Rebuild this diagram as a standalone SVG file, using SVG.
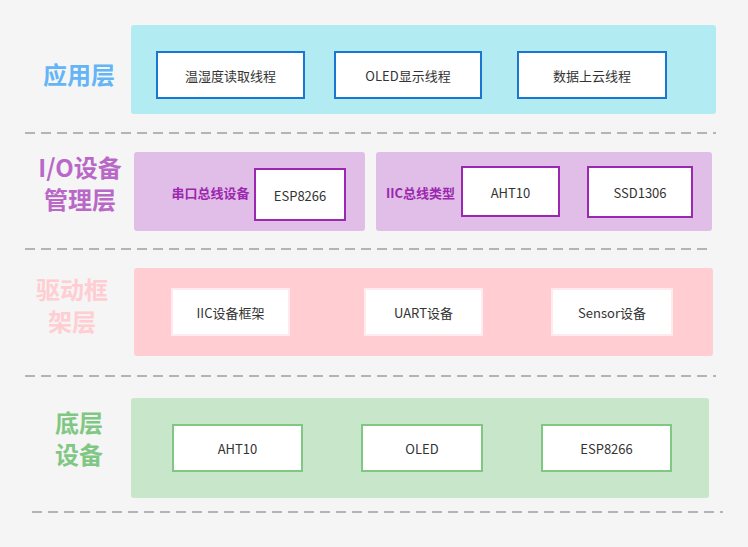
<svg xmlns="http://www.w3.org/2000/svg" width="748" height="547" viewBox="0 0 748 547">
<style>
text{font-family:"Noto Sans CJK SC","Noto Sans",sans-serif;text-anchor:middle}
.t{font-size:13px;fill:#333;dominant-baseline:central}
.lbl{font-size:24px;font-weight:bold}
.sub{font-size:13px;font-weight:bold;fill:#9c27b0;dominant-baseline:central}
.dash{stroke:#9e9e9e;stroke-width:1.5;stroke-dasharray:10 6;fill:none}
</style>
<rect width="748" height="547" fill="#f5f5f5"/>
<g id="sep">
<line class="dash" x1="25" y1="133" x2="716" y2="133"/>
<line class="dash" x1="25" y1="249" x2="712" y2="249"/>
<line class="dash" x1="25" y1="376" x2="716" y2="376"/>
<line class="dash" x1="32" y1="512" x2="723" y2="512" stroke="#bdbdbd"/>
</g>
<g id="app">
<rect x="131" y="25" width="585" height="89" rx="3" fill="#b2ebf2"/>
<text class="lbl" x="79" y="84" fill="#64b5f6">应用层</text>
<g id="app1"><rect x="157" y="52" width="147" height="46" fill="#fff" stroke="#1976d2" stroke-width="2"/><text class="t" x="230.5" y="75">温湿度读取线程</text></g>
<g id="app2"><rect x="335" y="52" width="146" height="46" fill="#fff" stroke="#1976d2" stroke-width="2"/><text class="t" x="408" y="75">OLED显示线程</text></g>
<g id="app3"><rect x="518" y="52" width="148" height="46" fill="#fff" stroke="#1976d2" stroke-width="2"/><text class="t" x="592" y="75">数据上云线程</text></g>
</g>
<g id="io">
<rect x="134" y="152" width="231" height="79" rx="3" fill="#e1bee7"/>
<rect x="376" y="152" width="336" height="79" rx="3" fill="#e1bee7"/>
<text class="lbl" fill="#ba68c8"><tspan x="80" y="177">I/O设备</tspan><tspan x="80" y="209">管理层</tspan></text>
<text class="sub" x="210.5" y="192">串口总线设备</text>
<text class="sub" x="420.5" y="192">IIC总线类型</text>
<g id="io1"><rect x="255" y="169" width="90" height="51" fill="#fff" stroke="#9c27b0" stroke-width="2"/><text class="t" x="300" y="195">ESP8266</text></g>
<g id="io2"><rect x="462" y="167" width="97" height="49" fill="#fff" stroke="#9c27b0" stroke-width="2"/><text class="t" x="510.5" y="192">AHT10</text></g>
<g id="io3"><rect x="588" y="167" width="104" height="50" fill="#fff" stroke="#9c27b0" stroke-width="2"/><text class="t" x="640" y="192">SSD1306</text></g>
</g>
<g id="drv">
<rect x="134" y="268" width="579" height="88" rx="3" fill="#ffcdd2"/>
<text class="lbl" fill="#ffcdd2"><tspan x="72" y="299">驱动框</tspan><tspan x="72" y="331">架层</tspan></text>
<g id="drv1"><rect x="172" y="289" width="117" height="46" fill="#fff" stroke="#ffebee" stroke-width="2"/><text class="t" x="230.5" y="312">IIC设备框架</text></g>
<g id="drv2"><rect x="365" y="289" width="117" height="46" fill="#fff" stroke="#ffebee" stroke-width="2"/><text class="t" x="423.5" y="312">UART设备</text></g>
<g id="drv3"><rect x="552" y="289" width="120" height="46" fill="#fff" stroke="#ffebee" stroke-width="2"/><text class="t" x="612" y="312">Sensor设备</text></g>
</g>
<g id="hw">
<rect x="131" y="398" width="578" height="100" rx="3" fill="#c8e6c9"/>
<text class="lbl" fill="#81c784"><tspan x="79" y="432">底层</tspan><tspan x="79" y="464">设备</tspan></text>
<g id="hw1"><rect x="173" y="425" width="129" height="46" fill="#fff" stroke="#81c784" stroke-width="2"/><text class="t" x="237.5" y="448">AHT10</text></g>
<g id="hw2"><rect x="362" y="425" width="120" height="46" fill="#fff" stroke="#81c784" stroke-width="2"/><text class="t" x="422" y="448">OLED</text></g>
<g id="hw3"><rect x="542" y="425" width="129" height="46" fill="#fff" stroke="#81c784" stroke-width="2"/><text class="t" x="606.5" y="448">ESP8266</text></g>
</g>
</svg>
